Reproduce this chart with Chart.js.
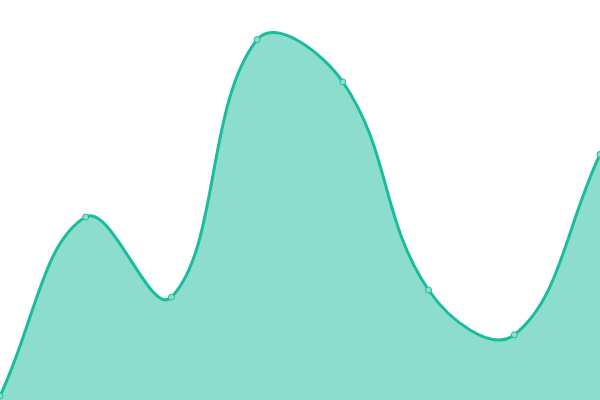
<!DOCTYPE html>
<html>
<head>
<meta charset="utf-8">
<script src="https://cdn.jsdelivr.net/npm/chart.js@4/dist/chart.umd.min.js"></script>
<style>
html,body{margin:0;padding:0;background:#fff;}
#wrap{width:600px;height:400px;}
</style>
</head>
<body>
<div id="wrap"><canvas id="c" width="600" height="400"></canvas></div>
<script>
const labels = ["1","2","3","4","5","6","7","8"];
const values = [1, 45.75, 25.7, 90.1, 79.5, 27.5, 16.3, 61.4];
const yMin = 0;
const yMax = 100;

new Chart(document.getElementById('c'), {
  type: 'line',
  data: {
    labels: labels,
    datasets: [{
      data: values,
      fill: true,
      tension: 0.4,
      borderColor: '#1abc9c',
      backgroundColor: 'rgba(26,188,156,0.5)',
      borderWidth: 3,
      pointRadius: 3,
      pointBorderWidth: 1,
      pointBackgroundColor: 'rgba(141,222,206,1)',
      pointBorderColor: '#1abc9c'
    }]
  },
  options: {
    responsive: false,
    animation: false,
    devicePixelRatio: 1,
    layout: { padding: 0, autoPadding: false },
    plugins: { legend: { display: false }, tooltip: { enabled: false } },
    scales: {
      x: { display: false, offset: false },
      y: { display: false, min: yMin, max: yMax }
    }
  }
});
</script>
</body>
</html>
